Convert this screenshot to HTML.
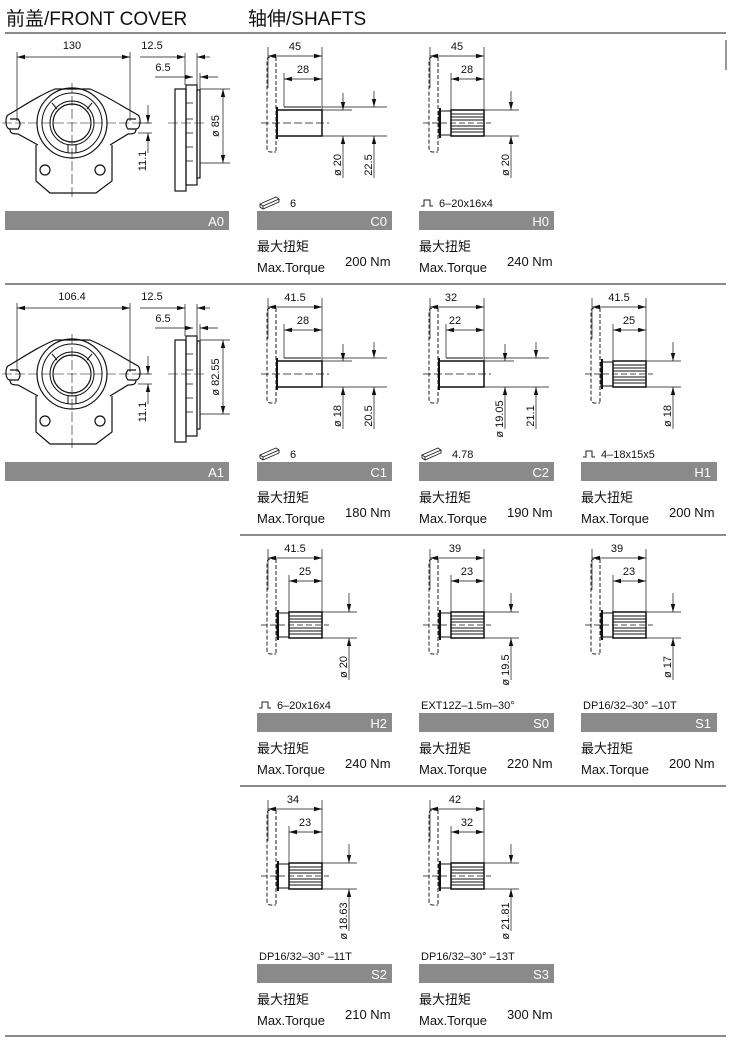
<!DOCTYPE html>
<html><head><meta charset="utf-8"><style>
html,body{margin:0;padding:0;background:#fff}
svg{display:block}
text{font-family:"Liberation Sans","Noto Sans CJK SC",sans-serif;fill:#111}
.t{font-size:11px}
.c{font-size:13px}
.b{font-size:13px;fill:#fff}
.h{font-size:19px}
</style></head><body>
<svg width="730" height="1040" viewBox="0 0 730 1040" xmlns="http://www.w3.org/2000/svg">
<defs>
<marker id="a" markerWidth="8" markerHeight="6" refX="8" refY="3" orient="auto-start-reverse" markerUnits="userSpaceOnUse"><path d="M0,0.8 L8,3 L0,5.2z" fill="#111"/></marker>
<g id="flange">
<path d="M19 24 L14 24 Q10 24 10 28 L10 115 Q10 119 14 119 L19 119 M19 24 L19 119" fill="none" stroke="#222" stroke-width="1" stroke-dasharray="4,2"/>
</g>
<g id="keyshaft" stroke="#111" fill="none">
<use href="#flange"/>
<line x1="11" y1="14" x2="11" y2="55" stroke-width="0.7"/>
<line x1="65" y1="14" x2="65" y2="77" stroke-width="0.7"/>
<line x1="11" y1="23" x2="65" y2="23" stroke-width="0.7" marker-start="url(#a)" marker-end="url(#a)"/>
<line x1="27" y1="40" x2="27" y2="74" stroke-width="0.7"/>
<line x1="27" y1="46" x2="65" y2="46" stroke-width="0.7" marker-start="url(#a)" marker-end="url(#a)"/>
<rect x="20" y="77" width="45" height="26" stroke-width="1.5"/>
<line x1="27" y1="74" x2="64" y2="74" stroke-width="1"/>
<line x1="20" y1="74" x2="20" y2="106" stroke-width="2"/>
<line x1="4" y1="90" x2="72" y2="90" stroke-width="0.7" stroke-dasharray="8,3"/>
<line x1="65" y1="77" x2="95" y2="77" stroke-width="0.7"/>
<line x1="65" y1="103" x2="130" y2="103" stroke-width="0.7"/>
<line x1="65" y1="74" x2="130" y2="74" stroke-width="0.7"/>
<line x1="86" y1="60" x2="86" y2="77" stroke-width="0.7" marker-end="url(#a)"/>
<line x1="86" y1="145" x2="86" y2="103" stroke-width="0.7" marker-end="url(#a)"/>
<line x1="117" y1="58" x2="117" y2="74" stroke-width="0.7" marker-end="url(#a)"/>
<line x1="117" y1="145" x2="117" y2="103" stroke-width="0.7" marker-end="url(#a)"/>
</g>
<g id="splshaft" stroke="#111" fill="none">
<use href="#flange"/>
<line x1="11" y1="14" x2="11" y2="55" stroke-width="0.7"/>
<line x1="65" y1="14" x2="65" y2="77" stroke-width="0.7"/>
<line x1="11" y1="23" x2="65" y2="23" stroke-width="0.7" marker-start="url(#a)" marker-end="url(#a)"/>
<line x1="32" y1="40" x2="32" y2="77" stroke-width="0.7"/>
<line x1="32" y1="46" x2="65" y2="46" stroke-width="0.7" marker-start="url(#a)" marker-end="url(#a)"/>
<rect x="20" y="78" width="12" height="24" stroke-width="1"/>
<line x1="21" y1="75" x2="21" y2="105" stroke-width="2"/>
<rect x="32" y="77" width="33" height="26" stroke-width="1.5"/>
<path d="M32 81H65M32 84H65M32 87H65M32 93H65M32 96H65M32 99H65" stroke-width="1"/>
<line x1="4" y1="90" x2="72" y2="90" stroke-width="0.7" stroke-dasharray="6,3"/>
<line x1="65" y1="77" x2="100" y2="77" stroke-width="0.7"/>
<line x1="65" y1="103" x2="100" y2="103" stroke-width="0.7"/>
<line x1="92" y1="58" x2="92" y2="77" stroke-width="0.7" marker-end="url(#a)"/>
<line x1="92" y1="145" x2="92" y2="103" stroke-width="0.7" marker-end="url(#a)"/>
</g>
<g id="key"><path d="M0 9 L16 2 L19 4 L3 11 Z M0 9 L0 12 L3 14 L19 7 L19 4 M3 11 L3 14" fill="#fff" stroke="#222" stroke-width="0.9"/></g>
<g id="spl"><path d="M0 8 H3 V2 H9 V8 H12" fill="none" stroke="#222" stroke-width="1"/></g>
<g id="cover" stroke="#111" fill="none">
<line x1="17" y1="19" x2="17" y2="88" stroke-width="0.7"/>
<line x1="130" y1="19" x2="130" y2="88" stroke-width="0.7"/>
<line x1="17" y1="24" x2="130" y2="24" stroke-width="0.7" marker-start="url(#a)" marker-end="url(#a)"/>
<path d="M8 82 C5 84 5 96 10 96 L18 96 Q22 91 18 86 L10 86 M8 82 C25 72 40 62 55 56 L90 56 C105 62 120 72 138 82 C141 84 141 96 136 96 L128 96 Q124 91 128 86 L136 86 M10 96 C10 100 12 101 18 101 L38 112 M136 96 C136 100 134 101 128 101 L110 112" stroke-width="1.2"/>
<path d="M36 112 L36 148 L50 160 L96 160 L112 148 L112 112" stroke-width="1.2"/>
<circle cx="45" cy="137" r="5" stroke-width="1.2"/>
<circle cx="100" cy="137" r="5" stroke-width="1.2"/>
<circle cx="72" cy="90" r="35" stroke-width="1.2"/>
<circle cx="72" cy="90" r="30" stroke-width="1"/>
<circle cx="72" cy="90" r="19" stroke-width="1.2"/>
<circle cx="72" cy="90" r="22" stroke-width="1"/>
<path d="M52 70 L57 76 M92 70 L87 76 M68 112 L68 120 M76 112 L76 120" stroke-width="1"/>
<line x1="2" y1="90" x2="150" y2="90" stroke-width="0.6" stroke-dasharray="10,3"/>
<line x1="72" y1="50" x2="72" y2="165" stroke-width="0.6" stroke-dasharray="10,3"/>
<line x1="138" y1="90" x2="152" y2="90" stroke-width="0.7"/>
<line x1="138" y1="100" x2="152" y2="100" stroke-width="0.7"/>
<line x1="148" y1="72" x2="148" y2="90" stroke-width="0.7" marker-end="url(#a)"/>
<line x1="148" y1="120" x2="148" y2="100" stroke-width="0.7" marker-end="url(#a)"/>
<rect x="175" y="56" width="11" height="102" stroke-width="1.2"/>
<rect x="186" y="52" width="11" height="100" stroke-width="1.2"/>
<rect x="197" y="57" width="3" height="88" stroke-width="1.2"/>
<path d="M186 70 H193 M186 86 H193 M186 100 H193 M186 114 H193 M186 128 H193" stroke-width="0.8"/>
<line x1="168" y1="90" x2="205" y2="90" stroke-width="0.6" stroke-dasharray="10,3"/>
<line x1="185" y1="20" x2="185" y2="52" stroke-width="0.7"/>
<line x1="197" y1="20" x2="197" y2="52" stroke-width="0.7"/>
<line x1="140" y1="24" x2="185" y2="24" stroke-width="0.7" marker-end="url(#a)"/>
<line x1="210" y1="24" x2="197" y2="24" stroke-width="0.7" marker-end="url(#a)"/>
<line x1="200" y1="40" x2="200" y2="57" stroke-width="0.7"/>
<line x1="155" y1="44" x2="193" y2="44" stroke-width="0.7" marker-end="url(#a)"/>
<line x1="218" y1="44" x2="200" y2="44" stroke-width="0.7" marker-end="url(#a)"/>
<line x1="200" y1="56" x2="230" y2="56" stroke-width="0.7"/>
<line x1="200" y1="130" x2="230" y2="130" stroke-width="0.7"/>
<line x1="223" y1="56" x2="223" y2="130" stroke-width="0.7" marker-start="url(#a)" marker-end="url(#a)"/>
</g>
</defs>

<text x="6" y="25" class="h">前盖/FRONT COVER</text>
<text x="248" y="25" class="h">轴伸/SHAFTS</text>
<g stroke="#444" stroke-width="1.3">
<line x1="5" y1="33" x2="726" y2="33"/>
<line x1="5" y1="284" x2="726" y2="284"/>
<line x1="240" y1="535" x2="726" y2="535"/>
<line x1="240" y1="786" x2="726" y2="786"/>
<line x1="5" y1="1036" x2="726" y2="1036"/>
</g>
<line x1="726" y1="40" x2="726" y2="70" stroke="#333"/>

<!-- A0 -->
<g transform="translate(0,33)"><use href="#cover"/>
<text x="72" y="16" class="t" text-anchor="middle">130</text>
<text x="152" y="16" class="t" text-anchor="middle">12.5</text>
<text x="163" y="38" class="t" text-anchor="middle">6.5</text>
<text transform="translate(219,93) rotate(-90)" class="t" text-anchor="middle">ø 85</text>
<text transform="translate(146,128) rotate(-90)" class="t" text-anchor="middle">11.1</text>
<rect x="5" y="178" width="224" height="19" fill="#8a8a8a"/>
<text x="224" y="193" class="b" text-anchor="end">A0</text>
</g>
<!-- A1 -->
<g transform="translate(0,284)"><use href="#cover"/>
<text x="72" y="16" class="t" text-anchor="middle">106.4</text>
<text x="152" y="16" class="t" text-anchor="middle">12.5</text>
<text x="163" y="38" class="t" text-anchor="middle">6.5</text>
<text transform="translate(219,93) rotate(-90)" class="t" text-anchor="middle">ø 82.55</text>
<text transform="translate(146,128) rotate(-90)" class="t" text-anchor="middle">11.1</text>
<rect x="5" y="178" width="224" height="19" fill="#8a8a8a"/>
<text x="224" y="193" class="b" text-anchor="end">A1</text>
</g>

<!-- C0 -->
<g transform="translate(257,33)"><use href="#keyshaft"/>
<text x="38" y="17" class="t" text-anchor="middle">45</text>
<text x="46" y="40" class="t" text-anchor="middle">28</text>
<text transform="translate(84,132) rotate(-90)" class="t" text-anchor="middle">ø 20</text>
<text transform="translate(115,132) rotate(-90)" class="t" text-anchor="middle">22.5</text>
<use href="#key" x="3" y="162"/><text x="33" y="174" class="t">6</text>
<rect x="0" y="178" width="135" height="19" fill="#8a8a8a"/><text x="130" y="193" class="b" text-anchor="end">C0</text>
<text x="0" y="218" class="c">最大扭矩</text><text x="0" y="239" class="c">Max.Torque</text><text x="88" y="233" class="c">200 Nm</text>
</g>
<!-- H0 -->
<g transform="translate(419,33)"><use href="#splshaft"/>
<text x="38" y="17" class="t" text-anchor="middle">45</text>
<text x="48" y="40" class="t" text-anchor="middle">28</text>
<text transform="translate(90,132) rotate(-90)" class="t" text-anchor="middle">ø 20</text>
<use href="#spl" x="2" y="165"/><text x="20" y="174" class="t">6–20x16x4</text>
<rect x="0" y="178" width="135" height="19" fill="#8a8a8a"/><text x="130" y="193" class="b" text-anchor="end">H0</text>
<text x="0" y="218" class="c">最大扭矩</text><text x="0" y="239" class="c">Max.Torque</text><text x="88" y="233" class="c">240 Nm</text>
</g>

<!-- C1 -->
<g transform="translate(257,284)"><use href="#keyshaft"/>
<text x="38" y="17" class="t" text-anchor="middle">41.5</text>
<text x="46" y="40" class="t" text-anchor="middle">28</text>
<text transform="translate(84,132) rotate(-90)" class="t" text-anchor="middle">ø 18</text>
<text transform="translate(115,132) rotate(-90)" class="t" text-anchor="middle">20.5</text>
<use href="#key" x="3" y="162"/><text x="33" y="174" class="t">6</text>
<rect x="0" y="178" width="135" height="19" fill="#8a8a8a"/><text x="130" y="193" class="b" text-anchor="end">C1</text>
<text x="0" y="218" class="c">最大扭矩</text><text x="0" y="239" class="c">Max.Torque</text><text x="88" y="233" class="c">180 Nm</text>
</g>
<!-- C2 -->
<g transform="translate(419,284)"><use href="#keyshaft"/>
<text x="32" y="17" class="t" text-anchor="middle">32</text>
<text x="36" y="40" class="t" text-anchor="middle">22</text>
<text transform="translate(84,135) rotate(-90)" class="t" text-anchor="middle">ø 19.05</text>
<text transform="translate(115,132) rotate(-90)" class="t" text-anchor="middle">21.1</text>
<use href="#key" x="3" y="162"/><text x="33" y="174" class="t">4.78</text>
<rect x="0" y="178" width="135" height="19" fill="#8a8a8a"/><text x="130" y="193" class="b" text-anchor="end">C2</text>
<text x="0" y="218" class="c">最大扭矩</text><text x="0" y="239" class="c">Max.Torque</text><text x="88" y="233" class="c">190 Nm</text>
</g>
<!-- H1 -->
<g transform="translate(581,284)"><use href="#splshaft"/>
<text x="38" y="17" class="t" text-anchor="middle">41.5</text>
<text x="48" y="40" class="t" text-anchor="middle">25</text>
<text transform="translate(90,132) rotate(-90)" class="t" text-anchor="middle">ø 18</text>
<use href="#spl" x="2" y="165"/><text x="20" y="174" class="t">4–18x15x5</text>
<rect x="0" y="178" width="136" height="19" fill="#8a8a8a"/><text x="130" y="193" class="b" text-anchor="end">H1</text>
<text x="0" y="218" class="c">最大扭矩</text><text x="0" y="239" class="c">Max.Torque</text><text x="88" y="233" class="c">200 Nm</text>
</g>

<!-- H2 -->
<g transform="translate(257,535)"><use href="#splshaft"/>
<text x="38" y="17" class="t" text-anchor="middle">41.5</text>
<text x="48" y="40" class="t" text-anchor="middle">25</text>
<text transform="translate(90,132) rotate(-90)" class="t" text-anchor="middle">ø 20</text>
<use href="#spl" x="2" y="165"/><text x="20" y="174" class="t">6–20x16x4</text>
<rect x="0" y="178" width="135" height="19" fill="#8a8a8a"/><text x="130" y="193" class="b" text-anchor="end">H2</text>
<text x="0" y="218" class="c">最大扭矩</text><text x="0" y="239" class="c">Max.Torque</text><text x="88" y="233" class="c">240 Nm</text>
</g>
<!-- S0 -->
<g transform="translate(419,535)"><use href="#splshaft"/>
<text x="36" y="17" class="t" text-anchor="middle">39</text>
<text x="48" y="40" class="t" text-anchor="middle">23</text>
<text transform="translate(90,135) rotate(-90)" class="t" text-anchor="middle">ø 19.5</text>
<text x="2" y="174" class="t">EXT12Z–1.5m–30°</text>
<rect x="0" y="178" width="135" height="19" fill="#8a8a8a"/><text x="130" y="193" class="b" text-anchor="end">S0</text>
<text x="0" y="218" class="c">最大扭矩</text><text x="0" y="239" class="c">Max.Torque</text><text x="88" y="233" class="c">220 Nm</text>
</g>
<!-- S1 -->
<g transform="translate(581,535)"><use href="#splshaft"/>
<text x="36" y="17" class="t" text-anchor="middle">39</text>
<text x="48" y="40" class="t" text-anchor="middle">23</text>
<text transform="translate(90,132) rotate(-90)" class="t" text-anchor="middle">ø 17</text>
<text x="2" y="174" class="t">DP16/32–30°  –10T</text>
<rect x="0" y="178" width="136" height="19" fill="#8a8a8a"/><text x="130" y="193" class="b" text-anchor="end">S1</text>
<text x="0" y="218" class="c">最大扭矩</text><text x="0" y="239" class="c">Max.Torque</text><text x="88" y="233" class="c">200 Nm</text>
</g>

<!-- S2 -->
<g transform="translate(257,786)"><use href="#splshaft"/>
<text x="36" y="17" class="t" text-anchor="middle">34</text>
<text x="48" y="40" class="t" text-anchor="middle">23</text>
<text transform="translate(90,135) rotate(-90)" class="t" text-anchor="middle">ø 18.63</text>
<text x="2" y="174" class="t">DP16/32–30°  –11T</text>
<rect x="0" y="178" width="135" height="19" fill="#8a8a8a"/><text x="130" y="193" class="b" text-anchor="end">S2</text>
<text x="0" y="218" class="c">最大扭矩</text><text x="0" y="239" class="c">Max.Torque</text><text x="88" y="233" class="c">210 Nm</text>
</g>
<!-- S3 -->
<g transform="translate(419,786)"><use href="#splshaft"/>
<text x="36" y="17" class="t" text-anchor="middle">42</text>
<text x="48" y="40" class="t" text-anchor="middle">32</text>
<text transform="translate(90,135) rotate(-90)" class="t" text-anchor="middle">ø 21.81</text>
<text x="2" y="174" class="t">DP16/32–30°  –13T</text>
<rect x="0" y="178" width="135" height="19" fill="#8a8a8a"/><text x="130" y="193" class="b" text-anchor="end">S3</text>
<text x="0" y="218" class="c">最大扭矩</text><text x="0" y="239" class="c">Max.Torque</text><text x="88" y="233" class="c">300 Nm</text>
</g>
</svg>
</body></html>
